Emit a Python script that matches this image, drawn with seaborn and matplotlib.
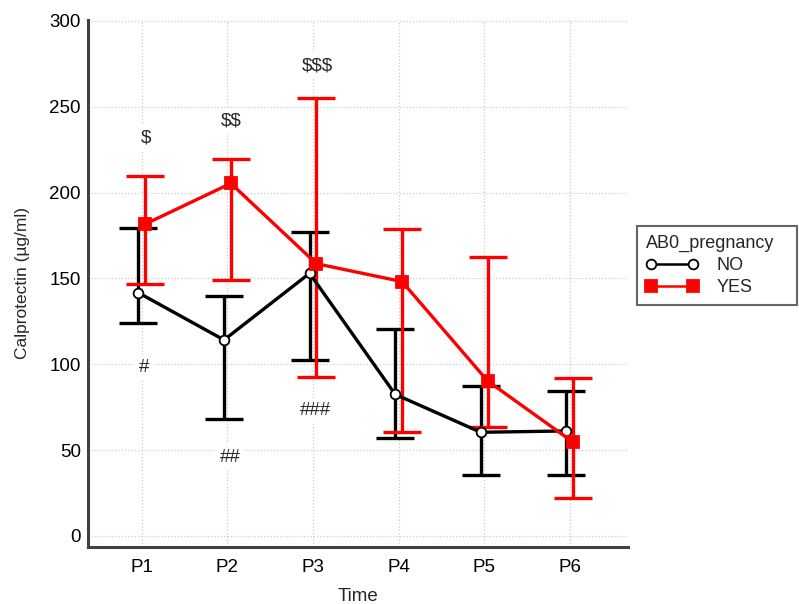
import numpy as np
import pandas as pd
import matplotlib
matplotlib.use('Agg')
import matplotlib.pyplot as plt
import seaborn as sns

sns.set_style('white')
plt.rcParams['font.family'] = ['Liberation Sans', 'DejaVu Sans']

# values
times = ['P1', 'P2', 'P3', 'P4', 'P5', 'P6']
no_mean = [141.7, 114.2, 153.0, 82.5, 60.4, 61.2]
no_low = [124.0, 68.2, 102.5, 57.3, 35.5, 35.5]
no_high = [179.6, 139.8, 176.9, 120.6, 87.4, 84.6]
yes_mean = [181.7, 205.4, 158.6, 148.2, 90.3, 54.6]
yes_low = [147.0, 148.9, 92.8, 60.4, 63.3, 22.3]
yes_high = [209.5, 219.4, 255.1, 179.0, 162.7, 92.2]

# significance marks
top_marks = ['$', '$$', '$$$']
top_marks_y = [232, 242, 274]
bottom_marks = ['#', '##', '###']
bottom_marks_y = [98, 46, 73]

fig = plt.figure(figsize=(7.99, 6.04), dpi=100)
ax = fig.add_axes([0.110, 0.0944, 0.676, 0.8726])

x = np.arange(len(times))
dodge = 0.04
groups = [
    ('NO', no_mean, no_low, no_high, 'black', 'o', 'white', -dodge, 7),
    ('YES', yes_mean, yes_low, yes_high, '#ff0000', 's', '#ff0000', dodge, 8),
]

handles = []
for name, mean, low, high, col, mk, face, off, ms in groups:
    xs = x + off
    mean = np.array(mean)
    err = [mean - np.array(low), np.array(high) - mean]
    ax.errorbar(xs, mean, yerr=err, fmt='none', ecolor=col, elinewidth=2.4,
                capsize=14, capthick=2.4, zorder=2)
    df = pd.DataFrame({'x': xs, 'y': mean})
    sns.lineplot(data=df, x='x', y='y', color=col, linewidth=2.4, ax=ax,
                 marker=mk, markersize=ms, markerfacecolor=face,
                 markeredgecolor=col if mk == 's' else 'black',
                 markeredgewidth=1.3, zorder=3)
    h, = ax.plot([], [], color=col, linewidth=1.8, marker=mk, markersize=ms,
                 markerfacecolor=face, markeredgecolor=col if mk == 's' else 'black',
                 markeredgewidth=1.3)
    handles.append(h)

for i, (t, yv) in enumerate(zip(top_marks, top_marks_y)):
    ax.text(i + 0.05, yv, t, ha='center', va='center', fontsize=13.5,
            parse_math=False,
            bbox=dict(facecolor='white', edgecolor='none', pad=3), zorder=1.5)
for i, (t, yv) in enumerate(zip(bottom_marks, bottom_marks_y)):
    ax.text(i + 0.03, yv, t, ha='center', va='center', fontsize=13.5,
            parse_math=False,
            bbox=dict(facecolor='white', edgecolor='none', pad=3), zorder=1.5)

ax.set_xlim(-0.63, 5.68)
ax.set_ylim(-6.4, 300.6)
ax.set_xticks(x)
ax.set_xticklabels(times)
ax.set_yticks(np.arange(0, 301, 50))
ax.grid(True, color='#cccccc', linestyle=':', linewidth=0.9)
ax.set_axisbelow(True)

for s in ['top', 'right']:
    ax.spines[s].set_visible(False)
for s in ['left', 'bottom']:
    ax.spines[s].set_color('#404040')
    ax.spines[s].set_linewidth(2.2)
ax.tick_params(direction='in', length=7, width=1.6, color='#404040',
               labelsize=13.5, labelcolor='black')
ax.tick_params(axis='y', pad=5)
ax.tick_params(axis='x', pad=9)

ax.set_xlabel('Time', fontsize=13.5, labelpad=8)
ax.set_ylabel('Calprotectin (µg/ml)', fontsize=12.5, labelpad=14)

leg = fig.legend(handles, ['NO', 'YES'], title='AB0_pregnancy', loc='upper left',
                 bbox_to_anchor=(0.797, 0.3, 0.2, 0.326), mode='expand',
                 numpoints=2, fontsize=13,
                 title_fontsize=13, frameon=True, fancybox=False,
                 handlelength=2.9, handletextpad=1.0, labelspacing=0.28,
                 borderpad=0.5, borderaxespad=0)
leg._legend_box.align = 'left'
leg.get_frame().set_edgecolor('#404040')
leg.get_frame().set_linewidth(1.5)

fig.savefig('out.png', dpi=100)
